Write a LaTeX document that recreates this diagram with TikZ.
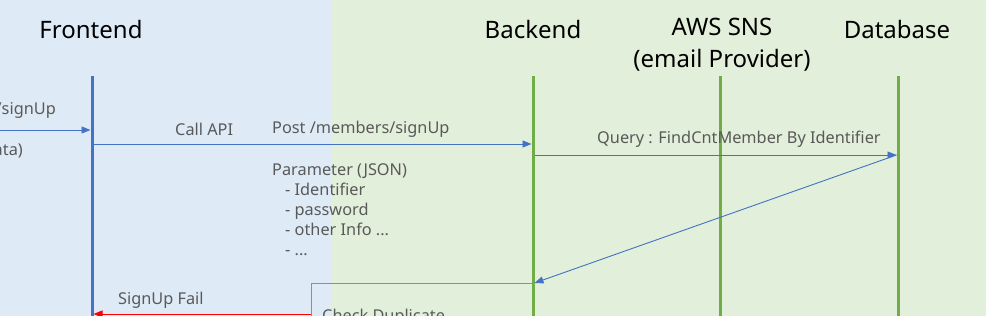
\documentclass[tikz,border=0pt]{standalone}
\usepackage{fontspec}
\setmainfont{Noto Sans}
\usetikzlibrary{arrows.meta}
\definecolor{bgblue}{HTML}{DEEAF6}
\definecolor{bggreen}{HTML}{E2EFDA}
\definecolor{lnblue}{HTML}{4472C4}
\definecolor{lngreen}{HTML}{70AD47}
\definecolor{txtgray}{HTML}{595959}
\begin{document}
\begin{tikzpicture}[x=1pt,y=-1pt,
  head/.style={inner sep=0pt,font=\fontsize{24}{32}\selectfont,text=black,align=center},
  lbl/.style={inner sep=0pt,font=\fontsize{16.3}{20}\selectfont,text=txtgray},
  feline/.style={draw=lnblue,line width=3pt},
  beline/.style={draw=lngreen,line width=3pt},
  msg/.style={draw=lnblue,line width=0.9pt,-{Triangle[length=9pt,width=7pt]}},
  failmsg/.style={draw=red,line width=1pt,-{Triangle[length=9pt,width=7pt]}},
  boxline/.style={draw=lngreen,line width=0.9pt}]
\useasboundingbox (0,0) rectangle (986,316);
\fill[bgblue] (0,0) rectangle (331,316);
\fill[bggreen] (331,0) rectangle (986,316);
% headers
\node[head] (fe) at (91,29) {Frontend};
\node[head] (be) at (533,29) {Backend};
\node[head] (sns) at (722,45) {AWS SNS\\(email Provider)};
\node[head] (db) at (897,29) {Database};
% lifelines
\coordinate (feT) at (92,76); \coordinate (feB) at (92,316);
\coordinate (beT) at (533,76); \coordinate (beB) at (533,316);
\coordinate (snsT) at (720,76); \coordinate (snsB) at (720,316);
\coordinate (dbT) at (898,76); \coordinate (dbB) at (898,316);
\draw[feline] (feT) -- (feB);
\draw[beline] (beT) -- (beB);
\draw[beline] (snsT) -- (snsB);
\draw[beline] (dbT) -- (dbB);
% incoming request
\coordinate (inL) at (0,130); \coordinate (inR) at (90.5,130);
\draw[msg] (inL) -- (inR);
\node[lbl,anchor=east] (inA) at (56,110) {/signUp};
\node[lbl,anchor=east] (inB) at (23,151) {ata)};
% call api
\coordinate (caL) at (93.5,144); \coordinate (caR) at (531.5,144);
\draw[msg] (caL) -- (caR);
\node[lbl,anchor=west] (calllbl) at (175,129) {Call API};
\node[lbl,anchor=west] (postlbl) at (272,129) {Post /members/signUp};
\node[lbl,anchor=north west,align=left] (param) at (272,163)
  {Parameter (JSON)\\\hspace{13pt}- Identifier\\\hspace{13pt}- password\\\hspace{13pt}- other Info ...\\\hspace{13pt}- ...};
% query
\coordinate (qL) at (534.5,155); \coordinate (qR) at (896.5,155);
\draw[msg] (qL) -- (qR);
\node[lbl,anchor=west] (qlbl) at (597,139) {Query : FindCntMember By Identifier};
% return
\coordinate (rS) at (896.5,155); \coordinate (rE) at (534.5,283);
\draw[msg] (rS) -- (rE);
% check duplicate box
\coordinate (bxR) at (533,283); \coordinate (bxL) at (311,283); \coordinate (bxB) at (311,330);
\draw[boxline] (bxR) -- (bxL) -- (bxB);
\node[lbl,anchor=west] (chk) at (322,317) {Check Duplicate};
% signup fail
\coordinate (fS) at (311,314); \coordinate (fE) at (93.5,314);
\draw[failmsg] (fS) -- (fE);
\node[lbl,anchor=west] (faillbl) at (118,300) {SignUp Fail};
\end{tikzpicture}
\end{document}
